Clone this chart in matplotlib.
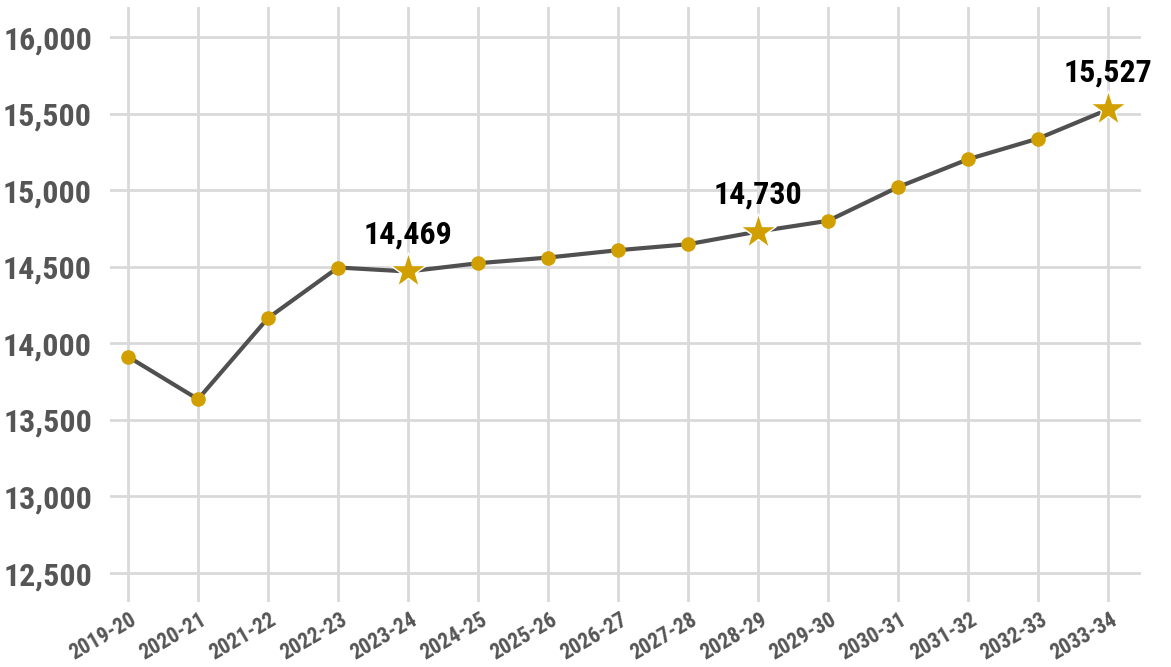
import matplotlib
matplotlib.use("Agg")
import matplotlib.pyplot as plt
import matplotlib.transforms as mtransforms

# Data
years = ["2019-20", "2020-21", "2021-22", "2022-23", "2023-24", "2024-25",
         "2025-26", "2026-27", "2027-28", "2028-29", "2029-30", "2030-31",
         "2031-32", "2032-33", "2033-34"]
values = [13913, 13635, 14165, 14495, 14469, 14523, 14560, 14608, 14647,
          14730, 14800, 15020, 15202, 15337, 15527]
# points highlighted with a star and a label
star_idx = [4, 9, 14]

y_ticks = [12500, 13000, 13500, 14000, 14500, 15000, 15500, 16000]

plt.rcParams['font.family'] = ['Roboto Condensed', 'Roboto', 'DejaVu Sans']
plt.rcParams['font.weight'] = 'bold'

line_col = "#505050"
gold = "#D1A000"

fig = plt.figure(figsize=(11.71, 6.67), dpi=100)
ax = fig.add_axes([110 / 1171, 1 - 602 / 667, 1031 / 1171, 595 / 667])

x = list(range(len(years)))
ax.plot(x, values, color=line_col, lw=3, zorder=3)
dots = [i for i in x if i not in star_idx]
ax.plot(dots, [values[i] for i in dots], 'o', color=gold, ms=9.5, mec=gold, zorder=4)
ax.plot(star_idx, [values[i] for i in star_idx], '*', color=gold, ms=27,
        mec='white', mew=1, zorder=5)

for i in star_idx:
    ax.annotate(f"{values[i]:,}", (i, values[i]), xytext=(0, 16),
                textcoords='offset points', ha='center', va='bottom',
                fontsize=23, fontweight='bold', color='black', zorder=6)

ax.set_xlim(-0.257, 14.47)
ax.set_ylim(12311, 16196)
ax.set_xticks(x)
ax.set_xticklabels(years, rotation=30, ha='right', va='center',
                   rotation_mode='anchor', fontsize=15.5, color="#555555")
ax.set_yticks(y_ticks)
ax.set_yticklabels([f"{v:,}" for v in y_ticks], fontsize=23, color="#555555")

ax.tick_params(axis='both', length=0)
ax.tick_params(axis='y', pad=13)
ax.tick_params(axis='x', pad=12)
offset = mtransforms.ScaledTranslation(7 / 100, 0, fig.dpi_scale_trans)
for lab in ax.get_xticklabels():
    lab.set_transform(lab.get_transform() + offset)

ax.grid(True, color="#d9d9d9", lw=2)
ax.set_axisbelow(True)
for s in ax.spines.values():
    s.set_visible(False)

fig.savefig("out.png", dpi=100)
